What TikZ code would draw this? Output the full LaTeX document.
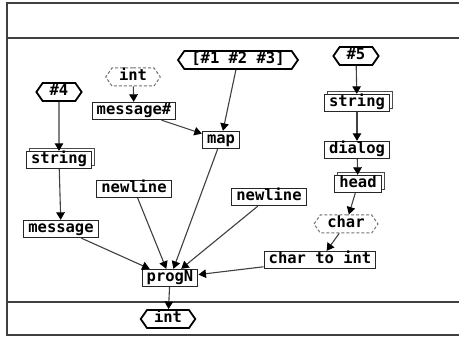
\documentclass[tikz,border=0pt]{standalone}
\usepackage{fontspec}
\setmonofont{DejaVu Sans Mono}
\usetikzlibrary{shapes.symbols,shadows,arrows.meta}
\begin{document}
\begin{tikzpicture}[x=1pt,y=-1pt,
  lbl/.style={font=\ttfamily\bfseries\fontsize{15.5}{15.5}\selectfont, text height=10.5pt, text depth=2.5pt},
  box/.style={lbl, draw=black!85, line width=1.3pt, fill=white, rectangle, inner xsep=4.5pt, inner ysep=2pt},
  stack/.style={box, copy shadow={shadow xshift=3pt, shadow yshift=3pt, draw=black!70, line width=1pt, fill=white}},
  hexa/.style={lbl, draw=black, line width=1.8pt, fill=white, signal, signal to=west and east, signal pointer angle=110, inner xsep=7pt, inner ysep=2.5pt},
  dhexa/.style={hexa, draw=black!55, line width=1pt, dash pattern=on 3pt off 2pt},
  conn/.style={draw=black!75, line width=1.1pt, -{Triangle[width=8.5pt,length=7.5pt,color=black]}},
  frame/.style={draw=black!75, line width=1.6pt}]
\useasboundingbox (0,0) rectangle (459,337);
\fill[white] (0,0) rectangle (459,337);
% frame
\draw[frame] (459,3) -- (7,3) -- (7,335) -- (459,335);
\draw[frame] (7,38) -- (459,38);
\draw[frame] (7,302) -- (459,302);
% nodes
\node[hexa] (b123) at (238,60) {[\#1 \#2 \#3]};
\node[hexa] (h5) at (356,56) {\#5};
\node[dhexa] (intT) at (133,77) {int};
\node[hexa] (h4) at (59,92) {\#4};
\node[box] (msgh) at (134,111) {message\#};
\node[box] (map) at (221,140) {map};
\node[stack] (strL) at (59,160) {string};
\node[stack] (strR) at (357,103) {string};
\node[box] (dialog) at (357,150) {dialog};
\node[stack] (head) at (358,184) {head};
\node[dhexa] (char) at (346,224) {char};
\node[box] (c2i) at (320,260) {char to int};
\node[box] (nlR) at (269,197) {newline};
\node[box] (nlL) at (134,189) {newline};
\node[box] (message) at (61,229) {message};
\node[box] (progN) at (170,278) {progN};
\node[hexa] (intB) at (168,319) {int};
% connectors
\draw[conn] (intT) -- (msgh);
\draw[conn] (msgh) -- (map);
\draw[conn] (b123) -- (map);
\draw[conn] (map) -- (progN);
\draw[conn] (h4) -- (strL);
\draw[conn] (strL) -- (message);
\draw[conn] (message) -- (progN);
\draw[conn] (nlL) -- (progN);
\draw[conn] (nlR) -- (progN);
\draw[conn] (h5) -- (strR);
\draw[conn] (strR) -- (dialog);
\draw[conn] (dialog) -- (head);
\draw[conn] (head) -- (char);
\draw[conn] (char) -- (c2i);
\draw[conn] (c2i) -- (progN);
\draw[conn] (progN) -- (intB);
\end{tikzpicture}
\end{document}
